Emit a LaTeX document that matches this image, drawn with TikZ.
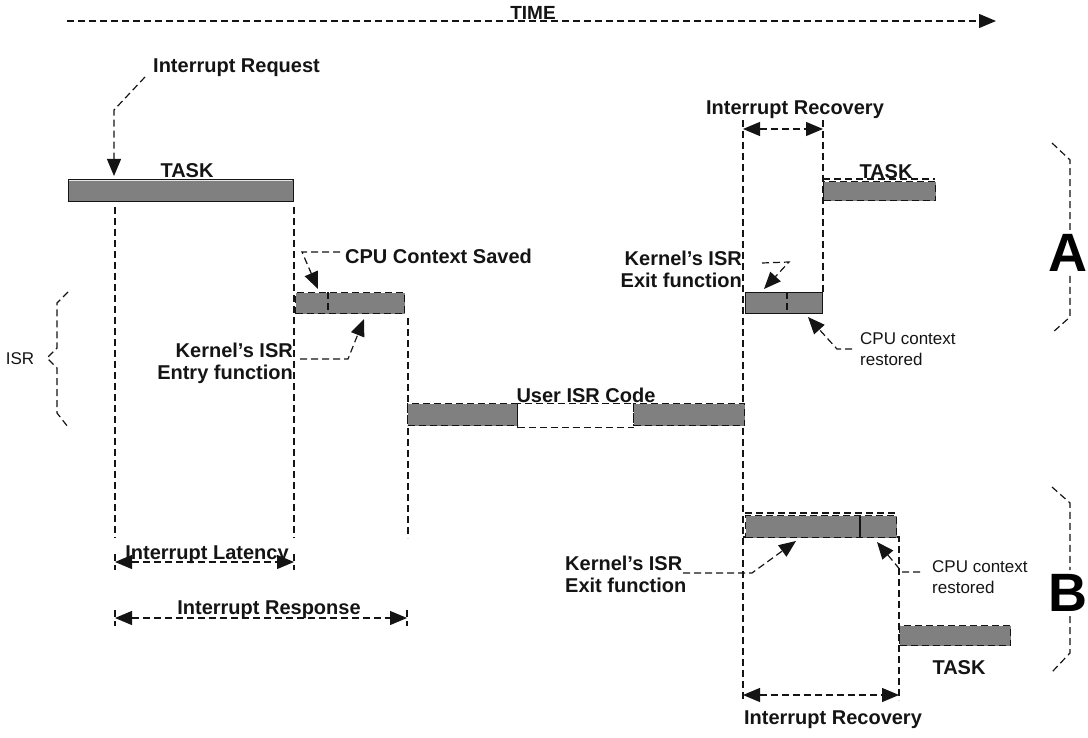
\documentclass[tikz,border=0pt]{standalone}
\usepackage{fontspec}
\setmainfont{Liberation Sans}
\usetikzlibrary{arrows.meta}
\definecolor{barfill}{RGB}{128,128,128}
\definecolor{ink}{RGB}{20,20,20}
\begin{document}
\begin{tikzpicture}[x=1pt,y=-1pt,
  dl/.style={draw=ink, line width=1.2pt, dash pattern=on 7pt off 4pt},
  tip/.style={-{Triangle[length=17pt,width=14pt]}},
  twotip/.style={{Triangle[length=17pt,width=14pt]}-{Triangle[length=17pt,width=14pt]}},
  bar/.style={fill=barfill, draw=ink, line width=1.2pt, inner sep=0pt, anchor=north west},
  dbar/.style={bar, dash pattern=on 7pt off 4pt},
  lbl/.style={font=\bfseries\fontsize{20}{22}\selectfont, inner sep=0pt, text=ink},
  note/.style={font=\fontsize{17}{21}\selectfont, inner sep=0pt, text=ink},
  big/.style={font=\bfseries\fontsize{54}{54}\selectfont, inner sep=0pt, text=black}
]
\useasboundingbox (0,0) rectangle (1088,738);
\clip (0,0) rectangle (1088,738);

% ---------- time axis ----------
\coordinate (t0) at (67,21);
\coordinate (t1) at (996,21);
\draw[dl, tip] (t0) -- (t1);
\node[lbl, anchor=base, font=\bfseries\fontsize{19}{19}\selectfont] (time) at (533,20) {TIME};

% ---------- vertical guide lines ----------
\coordinate (g1t) at (115,207); \coordinate (g1b) at (115,538);
\coordinate (g2t) at (294,207); \coordinate (g2b) at (294,538);
\coordinate (g3t) at (408,318); \coordinate (g3b) at (408,538);
\coordinate (g4t) at (743,120); \coordinate (g4b) at (743,700);
\coordinate (g5t) at (823,120); \coordinate (g5b) at (823,292);
\coordinate (g6t) at (899,537); \coordinate (g6b) at (899,700);
\coordinate (g7l) at (743,537);
\draw[dl] (g1t) -- (g1b);
\draw[dl] (g2t) -- (g2b);
\draw[dl] (g3t) -- (g3b);
\draw[dl] (g4t) -- (g4b);
\draw[dl] (g5t) -- (g5b);
\draw[dl] (g7l) -- (g6t) -- (g6b);

% ---------- execution bars ----------
\node[bar, minimum width=225pt, minimum height=22pt] (task1) at (68,179) {};
\node[dbar, minimum width=109pt, minimum height=21pt] (isrin) at (295,292) {};
\node[dbar, minimum width=110pt, minimum height=22pt] (usr1) at (407,403) {};
\node[dl, inner sep=0pt, anchor=north west, minimum width=116pt, minimum height=24pt] (usrgap) at (517,403) {};
\node[dbar, minimum width=111pt, minimum height=22pt] (usr2) at (633,403) {};
\node[bar, minimum width=77pt, minimum height=21pt] (exa) at (745,292) {};
\node[dbar, minimum width=112pt, minimum height=19pt] (task2) at (823,181) {};
\node[dbar, minimum width=151pt, minimum height=22pt] (exb) at (745,515) {};
\node[dbar, minimum width=111pt, minimum height=20pt] (task3) at (899,625) {};

% highlight along the top of the first task bar
\coordinate (h1l) at (69,181); \coordinate (h1r) at (292,181);
\draw[white!80!barfill, line width=1pt] (h1l) -- (h1r);

% dividers inside the bars
\coordinate (d1t) at (328,292); \coordinate (d1b) at (328,313);
\coordinate (d2t) at (787,292); \coordinate (d2b) at (787,313);
\coordinate (d3t) at (860,515); \coordinate (d3b) at (860,537);
\draw[dl] (d1t) -- (d1b);
\draw[dl] (d2t) -- (d2b);
\draw[draw=ink, line width=1.2pt] (d3t) -- (d3b);

% dashed edges above the bars
\coordinate (e1l) at (823,179); \coordinate (e1r) at (935,179);
\coordinate (e2l) at (745,513); \coordinate (e2r) at (896,513);
\draw[dl] (e1l) -- (e1r);
\draw[dl] (e2l) -- (e2r);

% ---------- bar labels ----------
\node[lbl] (tasklbl1) at (187,171) {TASK};
\node[lbl] (tasklbl2) at (886,172) {TASK};
\node[lbl] (tasklbl3) at (959,668) {TASK};
\node[lbl] (usrlbl) at (586,395) {User ISR Code};

% ---------- interrupt request ----------
\node[lbl, anchor=west] (irq) at (153,68) {Interrupt Request};
\coordinate (irq1) at (145,77);
\coordinate (irq2) at (114,110);
\coordinate (irq3) at (114,176);
\draw[dl, tip] (irq1) -- (irq2) -- (irq3);

% ---------- CPU context saved ----------
\node[lbl, anchor=west] (cpusaved) at (345,256) {CPU Context Saved};
\coordinate (cs1) at (340,252);
\coordinate (cs2) at (302,252);
\coordinate (cs3) at (318,289);
\draw[dl, tip] (cs1) -- (cs2) -- (cs3);

% ---------- kernel ISR entry ----------
\node[lbl, anchor=east, align=right] (entry) at (293,363) {Kernel's ISR\\Entry function};
\coordinate (en1) at (300,359);
\coordinate (en2) at (348,359);
\coordinate (en3) at (364,319);
\draw[dl, tip] (en1) -- (en2) -- (en3);

% ---------- ISR brace ----------
\node[note, anchor=center] (isr) at (20,359) {ISR};
\coordinate (b1) at (68,292); \coordinate (b2) at (57,303); \coordinate (b3) at (57,348);
\coordinate (b4) at (47,358); \coordinate (b5) at (57,368); \coordinate (b6) at (57,413);
\coordinate (b7) at (68,427);
\draw[dl] (b1) -- (b2) -- (b3) -- (b4) -- (b5) -- (b6) -- (b7);

% ---------- recovery, case A ----------
\node[lbl] (reca) at (795,110) {Interrupt Recovery};
\coordinate (ra1) at (743,129); \coordinate (ra2) at (823,129);
\draw[dl, twotip] (ra1) -- (ra2);

\node[lbl, anchor=east, align=right] (exita) at (742,269) {Kernel's ISR\\Exit function};
\coordinate (xa1) at (762,263);
\coordinate (xa2) at (789,262);
\coordinate (xa3) at (764,289);
\draw[dl, tip] (xa1) -- (xa2) -- (xa3);

\node[note, anchor=west, align=left] (resta) at (860,349) {CPU context\\restored};
\coordinate (ca1) at (852,349);
\coordinate (ca2) at (837,349);
\coordinate (ca3) at (808,317);
\draw[dl, tip] (ca1) -- (ca2) -- (ca3);

% ---------- recovery, case B ----------
\node[lbl, anchor=west, align=left] (exitb) at (565,574) {Kernel's ISR\\Exit function};
\coordinate (xb1) at (683,573);
\coordinate (xb2) at (752,573);
\coordinate (xb3) at (796,541);
\draw[dl, tip] (xb1) -- (xb2) -- (xb3);

\node[note, anchor=west, align=left] (restb) at (932,577) {CPU context\\restored};
\coordinate (cb1) at (920,572);
\coordinate (cb2) at (902,572);
\coordinate (cb3) at (877,542);
\draw[dl, tip] (cb1) -- (cb2) -- (cb3);

\coordinate (rb1) at (743,695); \coordinate (rb2) at (899,695);
\draw[dl, twotip] (rb1) -- (rb2);
\node[lbl] (recb) at (833,720) {Interrupt Recovery};

% ---------- latency and response ----------
\coordinate (la1) at (115,562); \coordinate (la2) at (294,562);
\draw[dl, twotip] (la1) -- (la2);
\node[lbl, anchor=base] (lat) at (207,559) {Interrupt Latency};
\coordinate (rs1) at (115,618); \coordinate (rs2) at (407,618);
\draw[dl, twotip] (rs1) -- (rs2);
\node[lbl, anchor=base] (resp) at (269,614) {Interrupt Response};
\coordinate (k1t) at (115,554); \coordinate (k1b) at (115,570);
\coordinate (k2t) at (294,554); \coordinate (k2b) at (294,570);
\coordinate (k3t) at (115,610); \coordinate (k3b) at (115,626);
\coordinate (k4t) at (407,610); \coordinate (k4b) at (407,626);
\draw[dl] (k1t) -- (k1b); \draw[dl] (k2t) -- (k2b);
\draw[dl] (k3t) -- (k3b); \draw[dl] (k4t) -- (k4b);

% ---------- case braces ----------
\node[big] (casea) at (1068,253) {A};
\coordinate (a1) at (1052,143); \coordinate (a2) at (1070,160); \coordinate (a3) at (1070,230);
\coordinate (a4) at (1070,276); \coordinate (a5) at (1070,317); \coordinate (a6) at (1052,333);
\draw[dl] (a1) -- (a2) -- (a3);
\draw[dl] (a4) -- (a5) -- (a6);

\node[big] (caseb) at (1068,593) {B};
\coordinate (c1) at (1052,487); \coordinate (c2) at (1070,503); \coordinate (c3) at (1070,570);
\coordinate (c4) at (1070,616); \coordinate (c5) at (1070,653); \coordinate (c6) at (1052,672);
\draw[dl] (c1) -- (c2) -- (c3);
\draw[dl] (c4) -- (c5) -- (c6);
\end{tikzpicture}
\end{document}
